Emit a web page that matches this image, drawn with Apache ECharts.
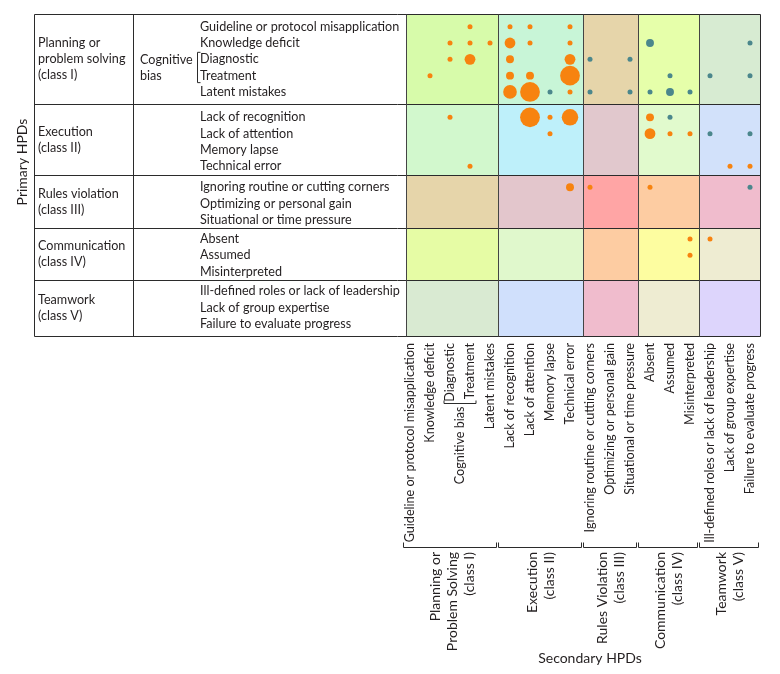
<!DOCTYPE html>
<html>
<head>
<meta charset="utf-8">
<script src="https://cdn.jsdelivr.net/npm/echarts@6.0.0/dist/echarts.min.js"></script>
<style>
html, body { margin: 0; padding: 0; background: #fff; }
#main { width: 780px; height: 674px; }
</style>
</head>
<body>
<div id="main"></div>
<script>
var FONT = 'Lato, "Open Sans", sans-serif';
var INK = '#231f20';
var FS = 12.6;

// class names (rows on the left, columns at the bottom)
var classNamesY = ['Planning or\nproblem solving\n(class I)', 'Execution\n(class II)', 'Rules violation\n(class III)', 'Communication\n(class IV)', 'Teamwork\n(class V)'];
var classNamesX = ['Planning or\nProblem Solving\n(class I)', 'Execution\n(class II)', 'Rules Violation\n(class III)', 'Communication\n(class IV)', 'Teamwork\n(class V)'];
var classSizes = [5, 4, 3, 3, 3];

// sub categories, same order on both axes
var subLabels = [
  'Guideline or protocol misapplication', 'Knowledge deficit', 'Diagnostic', 'Treatment', 'Latent mistakes',
  'Lack of recognition', 'Lack of attention', 'Memory lapse', 'Technical error',
  'Ignoring routine or cutting corners', 'Optimizing or personal gain', 'Situational or time pressure',
  'Absent', 'Assumed', 'Misinterpreted',
  'Ill-defined roles or lack of leadership', 'Lack of group expertise', 'Failure to evaluate progress'
];

// block edges in axis units
var colEdges = [-0.2, 4.4, 8.65, 11.4, 14.45, 17.5];
var rowEdges = [0, 5.52, 9.88, 13.13, 16.32, 19.75];
var rowFirst = [0.78, 6.34, 10.63, 13.8, 17.0];

// background colour of each primary(row) x secondary(col) block
var blockColors = [
  ['#d7fbaa', '#c8f5d7', '#e6d5aa', '#e6ffaa', '#d7ebd2'],
  ['#d2f8cd', '#bef0fa', '#e1c8cd', '#e1facd', '#d2e1fa'],
  ['#e6d5aa', '#e3c6cc', '#ffa5a5', '#fdcca2', '#f0bccd'],
  ['#e6fca5', '#e0f8cc', '#fdcca2', '#fdfda0', '#eeecd2'],
  ['#d9ead2', '#d0e0fc', '#f0bccd', '#eeecd2', '#ddd5fc']
];

// [secondary index, primary index, count]
var orangeDots = [
  [3, 0, 1], [5, 0, 1], [6, 0, 1], [8, 0, 1],
  [2, 1, 1], [3, 1, 1], [4, 1, 1], [5, 1, 6], [6, 1, 1], [8, 1, 1],
  [2, 2, 1], [3, 2, 6], [5, 2, 3], [8, 2, 6],
  [1, 3, 1], [5, 3, 3], [6, 3, 3], [8, 3, 22],
  [5, 4, 10], [6, 4, 22], [8, 4, 1],
  [2, 5, 1], [6, 5, 22], [7, 5, 1], [8, 5, 15], [12, 5, 3],
  [7, 6, 1], [12, 6, 6], [13, 6, 1], [14, 6, 1],
  [3, 8, 1], [16, 8, 1], [17, 8, 1],
  [8, 9, 3], [9, 9, 1], [12, 9, 1],
  [14, 12, 1], [15, 12, 1],
  [14, 13, 1]
];
var tealDots = [
  [12, 1, 3], [17, 1, 1],
  [9, 2, 1], [11, 2, 1],
  [13, 3, 1], [15, 3, 1], [17, 3, 1],
  [7, 4, 1], [9, 4, 1], [11, 4, 1], [12, 4, 1], [13, 4, 3], [14, 4, 1],
  [13, 5, 1],
  [15, 6, 1], [17, 6, 1],
  [17, 9, 1]
];

(function () {
  // row positions on the y axis
  var rowPos = [];
  for (var c = 0; c < classSizes.length; c++) {
    for (var k = 0; k < classSizes[c]; k++) rowPos.push(rowFirst[c] + k);
  }
  var colPos = subLabels.map(function (s, i) { return i; });

  function nearest(arr, v) {
    var best = 0;
    for (var i = 1; i < arr.length; i++) {
      if (Math.abs(arr[i] - v) < Math.abs(arr[best] - v)) best = i;
    }
    return best;
  }

  function toPoints(list) {
    return list.map(function (d) { return [d[0], rowPos[d[1]], d[2]]; });
  }

  var areas = [];
  for (var r = 0; r < 5; r++) {
    for (var q = 0; q < 5; q++) {
      areas.push([
        { xAxis: colEdges[q], yAxis: rowEdges[r], itemStyle: { color: blockColors[r][q] } },
        { xAxis: colEdges[q + 1], yAxis: rowEdges[r + 1] }
      ]);
    }
  }

  var myChart = echarts.init(document.getElementById('main'));
  myChart.setOption({
    animation: false,
    backgroundColor: '#fff',
    textStyle: { fontFamily: FONT },
    grid: { left: 406, top: 14, width: 354, height: 322 },
    xAxis: {
      type: 'value',
      min: colEdges[0],
      max: colEdges[5],
      splitLine: { show: false },
      axisLine: { show: false },
      axisTick: { show: false },
      axisLabel: {
        customValues: colPos,
        rotate: 90,
        margin: 7,
        fontSize: FS,
        fontFamily: FONT,
        color: INK,
        formatter: function (v) { return subLabels[nearest(colPos, v)]; }
      }
    },
    yAxis: {
      type: 'value',
      inverse: true,
      min: rowEdges[0],
      max: rowEdges[5],
      splitLine: { show: false },
      axisLine: { show: false },
      axisTick: { show: false },
      axisLabel: {
        customValues: rowPos,
        align: 'left',
        margin: 206,
        fontSize: FS,
        fontFamily: FONT,
        color: INK,
        formatter: function (v) { return subLabels[nearest(rowPos, v)]; }
      }
    },
    series: [
      {
        type: 'scatter',
        data: [],
        z: 1,
        silent: true,
        markArea: { silent: true, label: { show: false }, data: areas }
      },
      {
        name: 'orange',
        type: 'scatter',
        z: 3,
        data: toPoints(orangeDots),
        symbolSize: function (d) { return 4 * Math.sqrt(d[2]) + 1; },
        itemStyle: { color: '#f7830f', opacity: 1 }
      },
      {
        name: 'teal',
        type: 'scatter',
        z: 3,
        data: toPoints(tealDots),
        symbolSize: function (d) { return 4 * Math.sqrt(d[2]) + 1; },
        itemStyle: { color: '#4b878c', opacity: 1 }
      }
    ]
  });

  // table frame, brackets and class titles
  function px(v) { return myChart.convertToPixel({ xAxisIndex: 0 }, v); }
  function py(v) { return myChart.convertToPixel({ yAxisIndex: 0 }, v); }
  function crisp(v) { return Math.round(v) + 0.5; }

  var xLeft = 34.5, xDiv = 133.5;
  var yTop = crisp(py(rowEdges[0])), yBottom = crisp(py(rowEdges[5])), xRight = crisp(px(colEdges[5]));
  var lineStyle = { stroke: '#2b2b2b', lineWidth: 1 };
  var font = FS + 'px ' + FONT;
  var g = [];

  g.push({ type: 'rect', shape: { x: xLeft, y: yTop, width: xRight - xLeft, height: yBottom - yTop }, style: { fill: null, stroke: '#2b2b2b', lineWidth: 1 }, z: 10 });
  g.push({ type: 'line', shape: { x1: xDiv, y1: yTop, x2: xDiv, y2: yBottom }, style: lineStyle, z: 10 });
  for (var i = 1; i < 5; i++) {
    var yy = crisp(py(rowEdges[i]));
    g.push({ type: 'line', shape: { x1: xLeft, y1: yy, x2: xRight, y2: yy }, style: lineStyle, z: 10 });
  }
  for (var j = 0; j < 5; j++) {
    var xx = crisp(px(colEdges[j]));
    g.push({ type: 'line', shape: { x1: xx, y1: yTop, x2: xx, y2: yBottom }, style: { stroke: '#444', lineWidth: 1 }, z: 10 });
  }

  // class names on the left
  for (var a = 0; a < 5; a++) {
    g.push({
      type: 'text', x: 38, y: (py(rowEdges[a]) + py(rowEdges[a + 1])) / 2, z: 10,
      style: { text: classNamesY[a], font: font, fill: INK, verticalAlign: 'middle', lineHeight: 16 }
    });
  }

  // cognitive bias group, left table
  var yd = py(rowPos[2]), yt = py(rowPos[3]);
  g.push({
    type: 'text', x: 140, y: (yd + yt) / 2, z: 10,
    style: { text: 'Cognitive\nbias', font: font, fill: INK, verticalAlign: 'middle', lineHeight: 16 }
  });
  g.push({ type: 'polyline', shape: { points: [[200.5, yd - 7], [197.5, yd - 7], [197.5, yt + 7], [200.5, yt + 7]] }, style: lineStyle, z: 10 });

  // cognitive bias group, bottom labels
  var xd = px(2), xt = px(3), yb = 403.5;
  g.push({ type: 'polyline', shape: { points: [[xd - 6, yb - 3], [xd - 6, yb], [xt + 6, yb], [xt + 6, yb - 3]] }, style: lineStyle, z: 10 });
  g.push({
    type: 'text', x: (xd + xt) / 2, y: yb + 3, rotation: Math.PI / 2, z: 10,
    style: { text: 'Cognitive bias', font: font, fill: INK, align: 'right', verticalAlign: 'middle' }
  });

  // class brackets and names at the bottom
  var yBr = 547.5;
  for (var b = 0; b < 5; b++) {
    var x0 = Math.round(px(colEdges[b])) - 2.5 + (b === 0 ? 0 : 3);
    var x1 = Math.round(px(colEdges[b + 1])) - 1.5;
    g.push({ type: 'polyline', shape: { points: [[x0, yBr - 5], [x0, yBr], [x1, yBr], [x1, yBr - 5]] }, style: lineStyle, z: 10 });
    g.push({
      type: 'text', x: (px(colEdges[b]) + px(colEdges[b + 1])) / 2, y: 552, rotation: Math.PI / 2, z: 10,
      style: { text: classNamesX[b], font: '14px ' + FONT, fill: INK, align: 'right', verticalAlign: 'middle', lineHeight: 17 }
    });
  }

  // axis titles
  g.push({
    type: 'text', x: 590, y: 658, z: 10,
    style: { text: 'Secondary HPDs', font: '14px ' + FONT, fill: INK, align: 'center', verticalAlign: 'middle' }
  });
  g.push({
    type: 'text', x: 22, y: 162, rotation: Math.PI / 2, z: 10,
    style: { text: 'Primary HPDs', font: '14px ' + FONT, fill: INK, align: 'center', verticalAlign: 'middle' }
  });

  myChart.setOption({ graphic: { elements: g } });
})();
</script>
</body>
</html>
